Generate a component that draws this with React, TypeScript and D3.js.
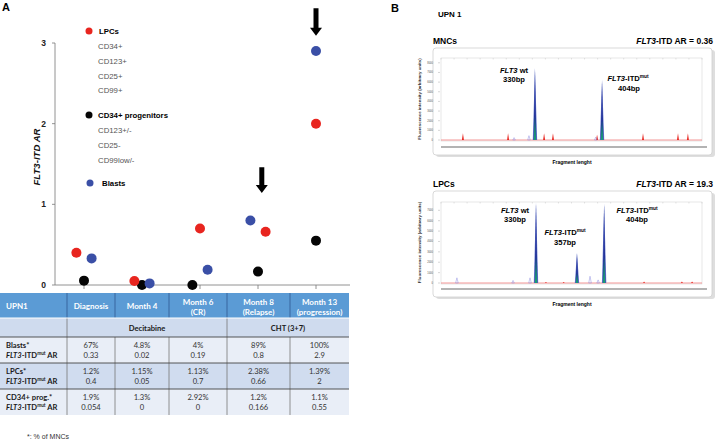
import React from "react";
import * as d3 from "d3";

// ---- panel A data ----
const categories = ["Diagnosis", "Month 4", "Month 6", "Month 8", "Month 13"];
const headerLines = [["Diagnosis"], ["Month 4"], ["Month 6", "(CR)"], ["Month 8", "(Relapse)"], ["Month 13", "(progression)"]];
const lpcAR = [0.4, 0.05, 0.7, 0.66, 2];
const cd34AR = [0.054, 0, 0, 0.166, 0.55];
const blastAR = [0.33, 0.02, 0.19, 0.8, 2.9];
const blastPct = ["67%", "4.8%", "4%", "89%", "100%"];
const lpcPct = ["1.2%", "1.15%", "1.13%", "2.38%", "1.39%"];
const cd34Pct = ["1.9%", "1.3%", "2.92%", "1.2%", "1.1%"];
// side-by-side slot of each dot inside its category (-1 left, 0 centre, 1 right)
const lpcSlot = [-1, -1, 0, 1, 0];
const cd34Slot = [0, 0, -1, 0, 0];
const blastSlot = [1, 1, 1, -1, 0];
const yTicks = [0, 1, 2, 3];
const arrows = [
  { cat: "Month 8", slot: 0.5, from: 1.46, to: 1.14 },
  { cat: "Month 13", slot: 0, from: 3.43, to: 3.09 },
];
const treatments = [
  { label: "Decitabine", first: 0, last: 2 },
  { label: "CHT (3+7)", first: 3, last: 4 },
];

// ---- panel B data (scan position 0-100, intensity) ----
const mncSample = [{ pos: 36, h: 7500 }, { pos: 61.7, h: 6250 }];
const mncMinor = [{ pos: 28, h: 250 }, { pos: 33.7, h: 450 }, { pos: 59.3, h: 300 }];
const mncStandard = [
  { pos: 8.4, h: 700 }, { pos: 25.7, h: 700 }, { pos: 39.5, h: 700 }, { pos: 42.9, h: 700 },
  { pos: 59.8, h: 550 }, { pos: 77.4, h: 700 }, { pos: 90.8, h: 700 }, { pos: 94.6, h: 700 },
];
const lpcSample = [{ pos: 36.4, h: 7800 }, { pos: 52.1, h: 2900 }, { pos: 62.5, h: 7700 }];
const lpcMinor = [{ pos: 6.1, h: 500 }, { pos: 27.6, h: 250 }, { pos: 34.1, h: 500 }, { pos: 57.1, h: 650 }, { pos: 60.2, h: 300 }];
const lpcStandard = [
  { pos: 40.2, h: 100 }, { pos: 47, h: 100 }, { pos: 77.8, h: 150 }, { pos: 92.3, h: 150 }, { pos: 96.2, h: 150 },
];
const intensityTicks = [0, 1000, 2000, 3000, 4000, 5000, 6000, 7000, 8000];

const RED = "#e8251f";
const BLUE = "#3a4fa6";
const BLACK = "#050505";
const ARIAL = "Liberation Sans, Arial, sans-serif";
const CALIBRI = "Lato, Carlito, sans-serif";

const x = d3.scalePoint<string>().domain(categories).range([84, 316]);
const y = d3.scaleLinear().domain([0, 3]).range([285, 43]);
const SLOT = 7.6;

const series = [
  { values: cd34AR, slots: cd34Slot, color: BLACK },
  { values: lpcAR, slots: lpcSlot, color: RED },
  { values: blastAR, slots: blastSlot, color: BLUE },
];

const FLT = ({ children }: { children?: React.ReactNode }) => (
  <tspan fontStyle="italic">{children}</tspan>
);

const ArLabel = ({ x: tx, y: ty }: { x: number; y: number }) => (
  <text x={tx} y={ty} fontFamily={CALIBRI} fontSize={7.6} fontWeight="bold" fill="#1a1a1a">
    <FLT>FLT3</FLT>-ITD
    <tspan fontSize={4.8} dy={-3}>mut</tspan>
    <tspan dy={3}> AR</tspan>
  </text>
);

function Electro({ top, bottom, frameTop, frameBottom, yMax, sample, minor, standard, title, ar }: any) {
  const px = d3.scaleLinear().domain([0, 100]).range([441, 702]);
  const py = d3.scaleLinear().domain([0, yMax]).range([bottom, top]);
  const tri = (pos: number, h: number, w: number) =>
    d3.line()([[px(pos) - w, py(0)], [px(pos), py(h)], [px(pos) + w, py(0)]]) + "Z";
  const midY = (top + bottom) / 2;
  return (
    <g>
      <text x={433} y={frameTop - 4} fontFamily={ARIAL} fontSize={8.5} fontWeight="bold">{title}</text>
      <text x={713} y={frameTop - 4} fontFamily={ARIAL} fontSize={8.5} fontWeight="bold" textAnchor="end">
        <FLT>FLT3</FLT>-ITD AR = {ar}
      </text>
      <rect x={436} y={frameTop + 2} width={279} height={frameBottom - frameTop} rx={3} fill="#c8c8c8" opacity={0.6} />
      <rect x={433} y={frameTop} width={279} height={frameBottom - frameTop} rx={3} fill="#fff" stroke="#cfcfcf" strokeWidth={0.8} />
      <rect x={441} y={top} width={261} height={bottom - top + 1} fill="#fff" stroke="#d6d6d6" strokeWidth={0.6} />
      {d3.range(0, 101, 5).map((t) => (
        <line key={t} x1={px(t)} x2={px(t)} y1={top} y2={top + 1.5} stroke="#bbb" strokeWidth={0.4} />
      ))}
      {intensityTicks.filter((t) => t <= yMax).map((t) => (
        <g key={t}>
          <line x1={438} x2={440} y1={py(t)} y2={py(t)} stroke="#999" strokeWidth={0.4} />
          <text x={433} y={py(t) + 1} fontFamily={ARIAL} fontSize={2.6} fill="#555" textAnchor="end">{t}</text>
        </g>
      ))}
      <text transform={`translate(421,${midY}) rotate(-90)`} fontFamily={ARIAL} fontSize={4.4} fontWeight="bold" fill="#333" textAnchor="middle">
        Fluorescence intensity (arbitrary units)
      </text>
      <line x1={441} x2={702} y1={py(0)} y2={py(0)} stroke="#ef6b6b" strokeWidth={0.7} />
      {standard.map((p: any, i: number) => (
        <path key={"s" + i} d={tri(p.pos, p.h, 1)} fill={RED} />
      ))}
      {minor.map((p: any, i: number) => (
        <path key={"m" + i} d={tri(p.pos, p.h, 1.3)} fill="none" stroke="#8f8fe0" strokeWidth={0.5} />
      ))}
      {sample.map((p: any, i: number) => (
        <g key={"p" + i}>
          <path d={tri(p.pos, p.h, 2.2)} fill="#6f7fd0" />
          <path d={tri(p.pos, p.h * 0.98, 1.4)} fill="#23349a" />
          <path d={tri(p.pos, p.h * 0.32, 1.1)} fill="#1a9c74" />
        </g>
      ))}
      <line x1={441} x2={707} y1={frameBottom - 8} y2={frameBottom - 8} stroke="#9a9a9a" strokeWidth={1.6} />
      <text x={572} y={frameBottom + 9} fontFamily={ARIAL} fontSize={5} fontWeight="bold" textAnchor="middle">Fragment lenght</text>
    </g>
  );
}

const colEdges = [0, 67, 115, 169, 227, 290, 349];
const rowEdges = [293, 318, 337, 363, 389, 415];

export default function App() {
  const bodyRows = [
    { label: "Blasts*", pct: blastPct, ar: blastAR, fill: "#e9eef7" },
    { label: "LPCs*", pct: lpcPct, ar: lpcAR, fill: "#d0dcef" },
    { label: "CD34+ prog.*", pct: cd34Pct, ar: cd34AR, fill: "#e9eef7" },
  ];
  const colMid = (i: number) => (colEdges[i + 1] + colEdges[i + 2]) / 2;

  return (
    <div style={{ position: "absolute", left: 0, top: 0 }}>
      <svg width={718} height={447} style={{ display: "block", background: "#fff" }}>
        {/* ---------- panel A ---------- */}
        <text x={2} y={11} fontFamily={ARIAL} fontSize={11} fontWeight="bold">A</text>

        <line x1={55} x2={55} y1={y(3)} y2={y(0)} stroke="#777" strokeWidth={0.8} />
        <line x1={55} x2={350} y1={y(0)} y2={y(0)} stroke="#777" strokeWidth={0.8} />
        {yTicks.map((t) => (
          <g key={t}>
            <line x1={52} x2={55} y1={y(t)} y2={y(t)} stroke="#777" strokeWidth={0.8} />
            <text x={46} y={y(t) + 3} fontFamily={ARIAL} fontSize={8.5} fontWeight="bold" textAnchor="end" fill="#222">{t}</text>
          </g>
        ))}
        {categories.map((c) => (
          <line key={c} x1={x(c)} x2={x(c)} y1={y(0)} y2={y(0) + 4} stroke="#777" strokeWidth={0.8} />
        ))}
        <text transform={`translate(40,157) rotate(-90)`} fontFamily={ARIAL} fontSize={9.6} fontWeight="bold" fontStyle="italic" textAnchor="middle" fill="#111">
          <FLT>FLT3</FLT>-ITD AR
        </text>

        {series.map((s, si) =>
          s.values.map((v, i) => (
            <circle key={si + "-" + i} cx={(x(categories[i]) as number) + s.slots[i] * SLOT} cy={y(v)} r={5} fill={s.color} />
          ))
        )}

        {arrows.map((a, i) => {
          const ax = (x(a.cat) as number) + a.slot * SLOT;
          const y0 = y(a.from), y1 = y(a.to);
          const headTop = y1 - 8;
          const d = `M${ax - 2.5},${y0}L${ax + 2.5},${y0}L${ax + 2.5},${headTop}L${ax + 6},${headTop}L${ax},${y1}L${ax - 6},${headTop}L${ax - 2.5},${headTop}Z`;
          return <path key={i} d={d} fill="#000" />;
        })}

        {/* legend */}
        <g fontFamily={ARIAL} fontSize={7.8}>
          <circle cx={89} cy={31} r={3.5} fill={RED} />
          <text x={99} y={34} fontWeight="bold">LPCs</text>
          {["CD34+", "CD123+", "CD25+", "CD99+"].map((t, i) => (
            <text key={t} x={98} y={49 + i * 14.8} fill="#555">{t}</text>
          ))}
          <circle cx={89} cy={115} r={3.5} fill={BLACK} />
          <text x={98} y={118} fontWeight="bold">CD34+ progenitors</text>
          {["CD123+/-", "CD25-", "CD99low/-"].map((t, i) => (
            <text key={t} x={98} y={133 + i * 15} fill="#555">{t}</text>
          ))}
          <circle cx={90} cy={183} r={3.5} fill={BLUE} />
          <text x={102} y={186} fontWeight="bold">Blasts</text>
        </g>

        {/* table */}
        <g fontFamily={CALIBRI}>
          <rect x={0} y={rowEdges[0]} width={349} height={rowEdges[1] - rowEdges[0]} fill="#5b9bd5" />
          <rect x={0} y={rowEdges[1]} width={349} height={rowEdges[2] - rowEdges[1]} fill="#cfdbee" />
          {bodyRows.map((r, i) => (
            <rect key={r.label} x={0} y={rowEdges[i + 2]} width={349} height={rowEdges[i + 3] - rowEdges[i + 2]} fill={r.fill} />
          ))}
          {colEdges.slice(1, -1).map((cx) => (
            <line key={cx} x1={cx} x2={cx} y1={rowEdges[0]} y2={rowEdges[1]} stroke="#3e6fa8" strokeWidth={1.2} />
          ))}
          {colEdges.slice(1, -1).map((cx, i) => (
            <line key={"b" + cx} x1={cx} x2={cx} y1={i === 1 || i === 2 || i === 4 ? rowEdges[2] : rowEdges[1]} y2={rowEdges[5]} stroke="#777" strokeWidth={0.8} />
          ))}
          <line x1={0} x2={349} y1={rowEdges[1]} y2={rowEdges[1]} stroke="#fff" strokeWidth={1} />
          {rowEdges.slice(2, 5).map((ry) => (
            <line key={ry} x1={0} x2={349} y1={ry} y2={ry} stroke="#444" strokeWidth={0.9} />
          ))}
          <text x={6} y={309} fill="#fff" fontSize={8} fontWeight="bold">UPN1</text>
          {headerLines.map((lines, i) =>
            lines.map((l, j) => (
              <text key={i + "-" + j} x={colMid(i)} y={lines.length === 1 ? 309 : 305 + j * 10} fill="#fff" fontSize={8} fontWeight="bold" textAnchor="middle">{l}</text>
            ))
          )}
          {treatments.map((t) => (
            <text key={t.label} x={(colEdges[t.first + 1] + colEdges[t.last + 2]) / 2} y={331} fontSize={7.6} fontWeight="bold" textAnchor="middle" fill="#1a1a1a">{t.label}</text>
          ))}
          {bodyRows.map((r, ri) => {
            const base = rowEdges[ri + 2] + 11;
            return (
              <g key={r.label}>
                <text x={6} y={base} fontSize={7.6} fontWeight="bold" fill="#1a1a1a">{r.label}</text>
                <ArLabel x={6} y={base + 10} />
                {r.pct.map((p, i) => (
                  <g key={i}>
                    <text x={colMid(i)} y={base} fontSize={7.6} textAnchor="middle" fill="#333">{p}</text>
                    <text x={colMid(i)} y={base + 10} fontSize={7.6} textAnchor="middle" fill="#333">{String(r.ar[i])}</text>
                  </g>
                ))}
              </g>
            );
          })}
        </g>
        <text x={27} y={439} fontFamily={ARIAL} fontSize={7} fill="#333">*: % of MNCs</text>

        {/* ---------- panel B ---------- */}
        <text x={391} y={12} fontFamily={ARIAL} fontSize={11} fontWeight="bold">B</text>
        <text x={438} y={17} fontFamily={ARIAL} fontSize={8} fontWeight="bold">UPN 1</text>

        <Electro top={58} bottom={140} frameTop={48} frameBottom={155} yMax={8500}
          sample={mncSample} minor={mncMinor} standard={mncStandard} title="MNCs" ar="0.36" />
        <Electro top={202} bottom={283} frameTop={191} frameBottom={297} yMax={7800}
          sample={lpcSample} minor={lpcMinor} standard={lpcStandard} title="LPCs" ar="19.3" />

        <g fontFamily={ARIAL} fontSize={7.6} fontWeight="bold" textAnchor="middle">
          <text x={514} y={72.5}><FLT>FLT3</FLT> wt</text>
          <text x={514} y={81.5}>330bp</text>
          <text x={628} y={80.5}><FLT>FLT3</FLT>-ITD<tspan fontSize={4.8} dy={-3}>mut</tspan></text>
          <text x={629} y={90.5}>404bp</text>

          <text x={515} y={213}><FLT>FLT3</FLT> wt</text>
          <text x={515} y={222}>330bp</text>
          <text x={565} y={235}><FLT>FLT3</FLT>-ITD<tspan fontSize={4.8} dy={-3}>mut</tspan></text>
          <text x={565} y={245}>357bp</text>
          <text x={637} y={213}><FLT>FLT3</FLT>-ITD<tspan fontSize={4.8} dy={-3}>mut</tspan></text>
          <text x={637} y={222}>404bp</text>
        </g>
      </svg>
    </div>
  );
}
